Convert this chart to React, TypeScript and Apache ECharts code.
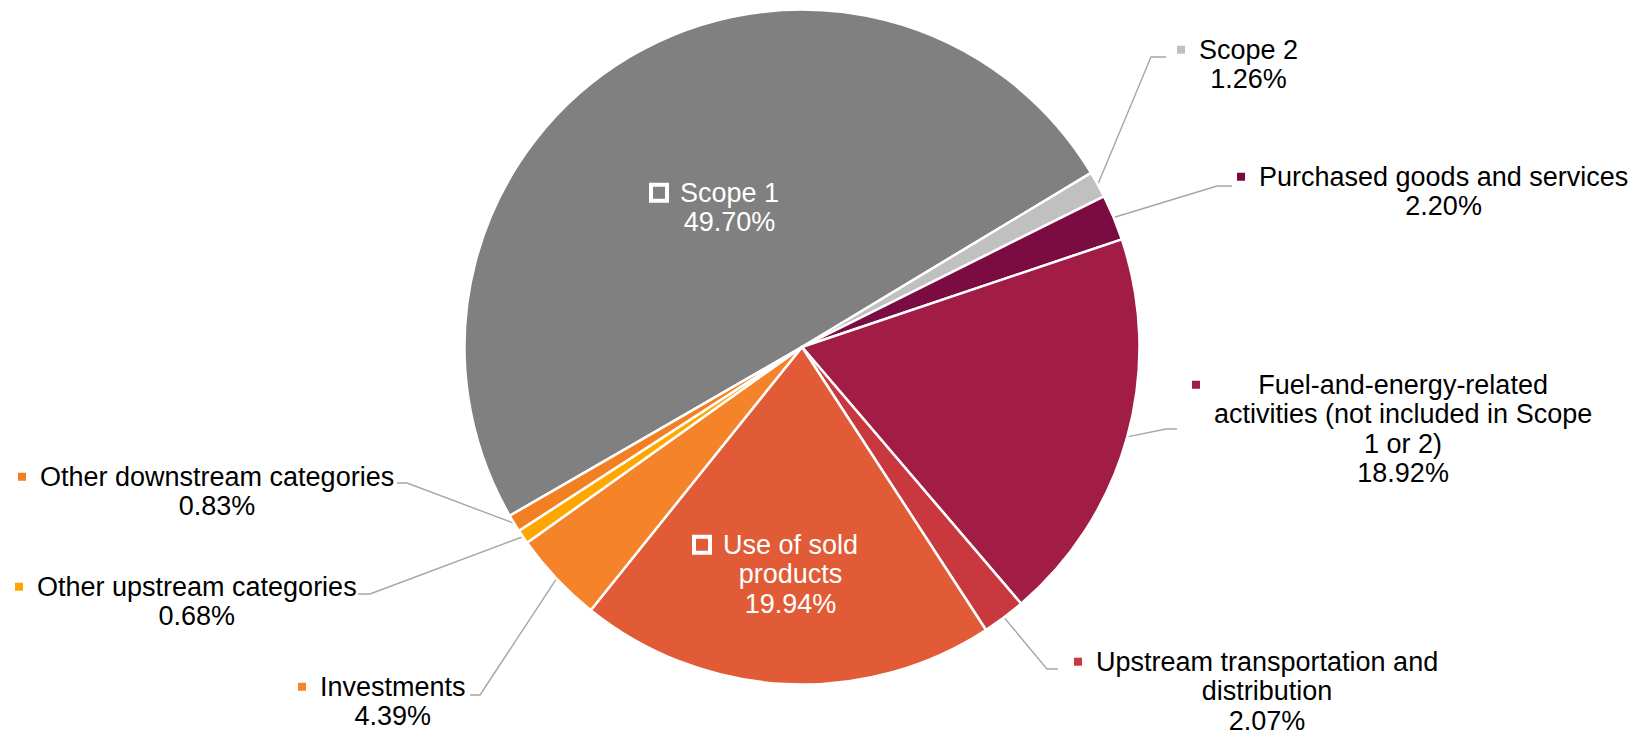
import React, { useEffect, useRef } from 'react';
import * as echarts from 'echarts';

// ---- data ----
const categories = [
  'Scope 1',
  'Scope 2',
  'Purchased goods and services',
  'Fuel-and-energy-related activities (not included in Scope 1 or 2)',
  'Upstream transportation and distribution',
  'Use of sold products',
  'Investments',
  'Other upstream categories',
  'Other downstream categories',
];
const values = [49.7, 1.26, 2.2, 18.92, 2.07, 19.94, 4.39, 0.68, 0.83];
// wrapped label text, as shown in the chart
const labelLines = [
  ['Scope 1'],
  ['Scope 2'],
  ['Purchased goods and services'],
  ['Fuel-and-energy-related', 'activities (not included in Scope', '1 or 2)'],
  ['Upstream transportation and', 'distribution'],
  ['Use of sold', 'products'],
  ['Investments'],
  ['Other upstream categories'],
  ['Other downstream categories'],
];

// ---- styles / layout ----
const colors = ['#808080', '#c0c0c0', '#7b0c42', '#a11d45', '#c9373f', '#e15b37', '#f5832a', '#ffa600', '#f27f22'];
const insideLabel = [true, false, false, false, false, true, false, false, false];
const labelPos = [[653, 178], [1177, 35], [1237, 162], [1192, 370], [1074, 647], [696, 530], [298, 672], [15, 572], [18, 462]];
const leaderElbow: (number[] | null)[] = [null, [1151, 57], [1217, 186], [1166, 429], [1047, 669], null, [480, 695], [370, 594], [407, 483]];
const leaderEnd: (number[] | null)[] = [null, [1166, 57], [1232, 186], [1177, 429], [1058, 669], null, [470, 695], [358, 594], [397, 483]];
const FONT = '"Liberation Sans", Arial, sans-serif';
const FS = 27;
const LH = 29.5;

export default function App() {
  const ref = useRef<HTMLDivElement>(null);
  useEffect(() => {
    if (!ref.current) return;
    const chart = echarts.init(ref.current, undefined, { renderer: 'svg' });
    const data = categories.map((name, i) => {
      const inside = insideLabel[i];
      const col = inside ? 27 : 22;
      const txtColor = inside ? '#ffffff' : '#000000';
      const mk = inside
        ? { width: 12, height: 12, backgroundColor: colors[i], borderColor: '#ffffff', borderWidth: 4, align: 'left' }
        : { width: 8, height: 8, backgroundColor: colors[i], align: 'left', verticalAlign: 'top', padding: [8, 0, 0, 0] };
      return {
        name,
        value: values[i],
        itemStyle: { color: colors[i] },
        label: {
          position: inside ? 'inside' : 'outside',
          color: txtColor,
          rich: {
            m: inside ? mk : { width: 8, height: 8, backgroundColor: colors[i], align: 'left' },
            g: { width: col - (inside ? 12 : 8), align: 'left' },
            s: { width: col, align: 'left' },
            t: { align: 'center', color: txtColor, fontSize: FS, lineHeight: LH, fontFamily: FONT },
          },
        },
        labelLine: { show: !inside },
      };
    });
    chart.setOption({
      animation: false,
      backgroundColor: '#ffffff',
      series: [
        {
          type: 'pie',
          center: [802, 347],
          radius: 337.5,
          startAngle: 210,
          clockwise: true,
          avoidLabelOverlap: false,
          silent: true,
          itemStyle: { borderColor: '#ffffff', borderWidth: 2.5 },
          emphasis: { disabled: true },
          label: {
            show: true,
            fontSize: FS,
            lineHeight: LH,
            fontFamily: FONT,
            overflow: 'none',
            formatter: (p: any) => {
              const lines = labelLines[p.dataIndex].concat([Number(p.value).toFixed(2) + '%']);
              return lines.map((l, k) => (k === 0 ? '{m|}{g|}' : '{s|}') + '{t|' + l + '}').join('\n');
            },
          },
          labelLine: {
            show: true,
            length: 20,
            length2: 15,
            smooth: false,
            lineStyle: { color: '#a6a6a6', width: 1.4 },
          },
          labelLayout: (params: any) => {
            const i = params.dataIndex;
            const res: any = { x: labelPos[i][0], y: labelPos[i][1], align: 'left', verticalAlign: 'top' };
            const el = leaderElbow[i];
            const en = leaderEnd[i];
            if (el && en && params.labelLinePoints && params.labelLinePoints[0]) {
              const p0 = params.labelLinePoints[0];
              res.labelLinePoints = [[p0[0], p0[1]], [el[0], el[1]], [en[0], en[1]]];
            }
            return res;
          },
          data,
        },
      ],
    });
    return () => chart.dispose();
  }, []);
  return (
    <div
      ref={ref}
      style={{ position: 'fixed', left: 0, top: 0, width: 1641, height: 737, background: '#fff' }}
    />
  );
}
